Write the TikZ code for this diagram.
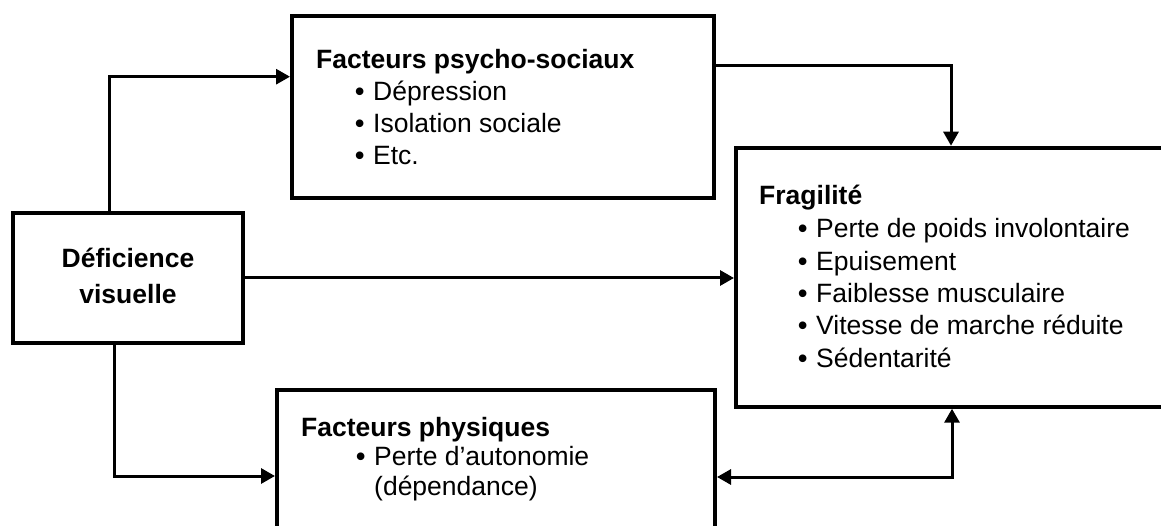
\documentclass[tikz,border=0pt]{standalone}
\usepackage{fontspec}
\setmainfont{Liberation Sans}
\usetikzlibrary{arrows.meta}
\newcommand{\bigbul}{\makebox[18pt][l]{\textbf{•}}}
\begin{document}
\begin{tikzpicture}[x=1pt,y=-1pt,
  box/.style={draw=black, line width=4pt, rectangle, inner sep=0pt},
  conn/.style={draw=black, line width=3pt, -{Triangle[length=14pt,width=15pt]}},
  biconn/.style={draw=black, line width=3pt, {Triangle[length=14pt,width=15pt]}-{Triangle[length=14pt,width=15pt]}},
  txt/.style={anchor=base west, inner sep=0pt, font=\fontsize{26.5}{32}\selectfont},
  ctxt/.style={anchor=base, inner sep=0pt, font=\fontsize{26.5}{32}\selectfont\bfseries},
  head/.style={txt, font=\fontsize{26.5}{32}\selectfont\bfseries}]
\clip (0,0) rectangle (1161,526);
\fill[white] (0,0) rectangle (1161,526);
% boxes
\node[box, minimum width=230pt, minimum height=130pt] (def) at (128,278) {};
\node[box, minimum width=422pt, minimum height=182pt] (psy) at (503,107) {};
\node[box, minimum width=464pt, minimum height=259pt] (frag) at (968,277.2) {};
\node[box, minimum width=438pt, minimum height=170pt] (phys) at (496,475) {};
% texts
\node[ctxt] (t1) at (128,268) {Déficience};
\node[ctxt] (t2) at (128,303.5) {visuelle};
\node[head] (p0) at (316,69) {Facteurs psycho-sociaux};
\node[txt] (p1) at (355,101) {\bigbul Dépression};
\node[txt] (p2) at (355,133) {\bigbul Isolation sociale};
\node[txt] (p3) at (355,165) {\bigbul Etc.};
\node[head] (f0) at (759,205) {Fragilité};
\node[txt] (f1) at (798,238) {\bigbul Perte de poids involontaire};
\node[txt] (f2) at (798,270.5) {\bigbul Epuisement};
\node[txt] (f3) at (798,302.5) {\bigbul Faiblesse musculaire};
\node[txt] (f4) at (798,334.5) {\bigbul Vitesse de marche réduite};
\node[txt] (f5) at (798,367) {\bigbul Sédentarité};
\node[head] (h0) at (301,436) {Facteurs physiques};
\node[txt] (h1) at (356,465) {\bigbul Perte d’autonomie};
\node[txt] (h2) at (374,495) {(dépendance)};
% connectors
\coordinate (c1) at (109,76.7);
\coordinate (c2) at (951,65.7);
\coordinate (c4) at (114,476);
\coordinate (c5) at (952,477);
\draw[conn] (c1 |- def.north) -- (c1) -- (c1 -| psy.west);
\draw[conn] (c2 -| psy.east) -- (c2) -- (c2 |- frag.north);
\draw[conn] (def.east) -- (def.east -| frag.west);
\draw[conn] (c4 |- def.south) -- (c4) -- (c4 -| phys.west);
\draw[biconn] (c5 -| phys.east) -- (c5) -- (c5 |- frag.south);
\end{tikzpicture}
\end{document}
